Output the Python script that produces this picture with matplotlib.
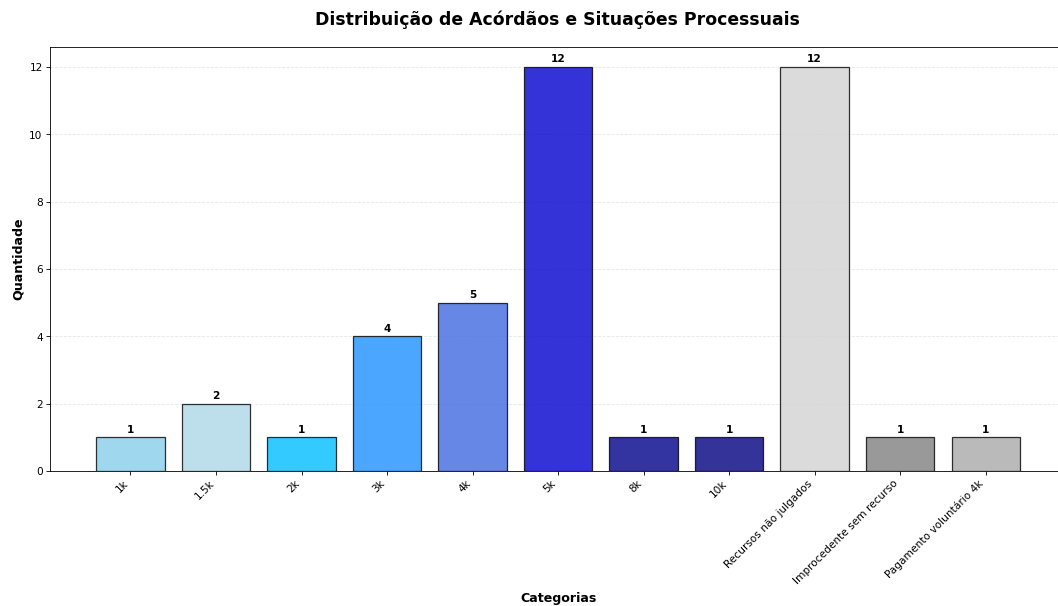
import matplotlib
matplotlib.use('Agg')
import matplotlib.pyplot as plt

categorias = ['1k', '1.5k', '2k', '3k', '4k', '5k', '8k', '10k',
              'Recursos não julgados', 'Improcedente sem recurso',
              'Pagamento voluntário 4k']
quantidades = [1, 2, 1, 4, 5, 12, 1, 1, 12, 1, 1]
cores = ['skyblue', 'lightblue', 'deepskyblue', 'dodgerblue', 'royalblue',
         'mediumblue', 'darkblue', 'navy', 'lightgray', 'gray', 'darkgray']

fig = plt.figure(figsize=(14, 8.02), dpi=75.6)
ax = fig.add_axes([0.0473, 0.2228, 0.960, 0.6997])

x = range(len(categorias))
bars = ax.bar(x, quantidades, color=cores, edgecolor='black', linewidth=1.2, alpha=0.8)

# Valores em cima das barras
for bar, val in zip(bars, quantidades):
    ax.text(bar.get_x() + bar.get_width() / 2, bar.get_height() + 0.08, str(val),
            ha='center', va='bottom', fontweight='bold', fontsize=10)

ax.set_xticks(list(x))
ax.set_xticklabels(categorias, rotation=45, ha='right', fontsize=10)
ax.grid(axis='y', linestyle='--', alpha=0.3)
ax.set_axisbelow(True)

ax.set_xlabel('Categorias', fontsize=12, fontweight='bold')
ax.xaxis.set_label_coords(0.5, -0.285)
ax.set_ylabel('Quantidade', fontsize=12, fontweight='bold')
fig.suptitle('Distribuição de Acórdãos e Situações Processuais', fontsize=16.5,
             fontweight='bold', x=0.527, y=0.982)

fig.savefig('out.png', dpi=75.6)
